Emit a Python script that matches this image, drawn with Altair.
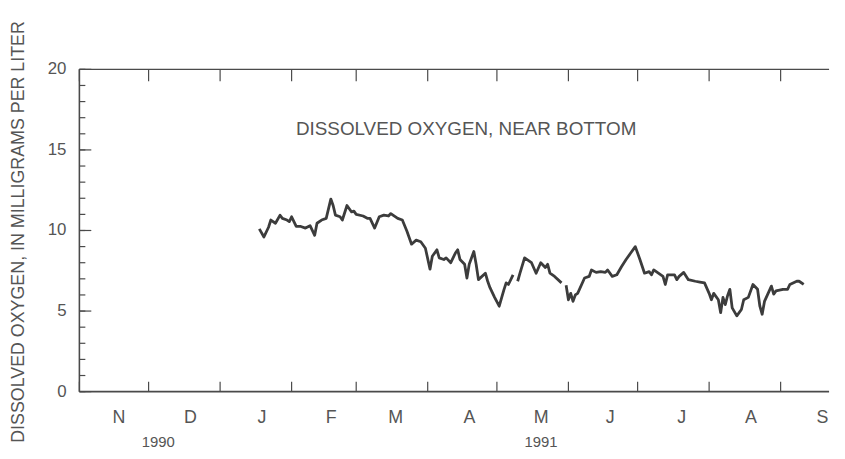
import altair as alt
import pandas as pd

# ---------------- data ----------------
dates = [
    "1991-01-18", "1991-01-20", "1991-01-22", "1991-01-23", "1991-01-25", "1991-01-27",
    "1991-01-28", "1991-01-30", "1991-01-31", "1991-02-01", "1991-02-03", "1991-02-05",
    "1991-02-07", "1991-02-09", "1991-02-11", "1991-02-12", "1991-02-14", "1991-02-16",
    "1991-02-18", "1991-02-19", "1991-02-20", "1991-02-22", "1991-02-23", "1991-02-25",
    "1991-02-27", "1991-02-28", "1991-03-01", "1991-03-04", "1991-03-06", "1991-03-07",
    "1991-03-09", "1991-03-11", "1991-03-13", "1991-03-15", "1991-03-16", "1991-03-19",
    "1991-03-21", "1991-03-23", "1991-03-25", "1991-03-27", "1991-03-29", "1991-03-31",
    "1991-04-02", "1991-04-03", "1991-04-05", "1991-04-06", "1991-04-08", "1991-04-09",
    "1991-04-11", "1991-04-13", "1991-04-14", "1991-04-15", "1991-04-17", "1991-04-18",
    "1991-04-19", "1991-04-21", "1991-04-22", "1991-04-23", "1991-04-26", "1991-04-27",
    "1991-04-28", "1991-04-30", "1991-05-02", "1991-05-04", "1991-05-05", "1991-05-06",
    "1991-05-08", "1991-05-09", "1991-05-10", "1991-05-11", "1991-05-13", "1991-05-16",
    "1991-05-18", "1991-05-20", "1991-05-22", "1991-05-23", "1991-05-24", "1991-05-26",
    "1991-05-29", "1991-05-30", "1991-05-31", "1991-06-01", "1991-06-02", "1991-06-03",
    "1991-06-04", "1991-06-05", "1991-06-08", "1991-06-10", "1991-06-11", "1991-06-13",
    "1991-06-15", "1991-06-17", "1991-06-18", "1991-06-20", "1991-06-22", "1991-06-24",
    "1991-06-26", "1991-06-28", "1991-06-30", "1991-07-02", "1991-07-04", "1991-07-06",
    "1991-07-07", "1991-07-08", "1991-07-10", "1991-07-12", "1991-07-13", "1991-07-14",
    "1991-07-17", "1991-07-18", "1991-07-19", "1991-07-21", "1991-07-23", "1991-07-26",
    "1991-07-28", "1991-07-30", "1991-08-01", "1991-08-02", "1991-08-03", "1991-08-05",
    "1991-08-06", "1991-08-07", "1991-08-08", "1991-08-09", "1991-08-10", "1991-08-11",
    "1991-08-13", "1991-08-15", "1991-08-16", "1991-08-18", "1991-08-20", "1991-08-22",
    "1991-08-23", "1991-08-24", "1991-08-25", "1991-08-28", "1991-08-29", "1991-08-30",
    "1991-09-02", "1991-09-04", "1991-09-05", "1991-09-08", "1991-09-09", "1991-09-11",
]
oxygen = [
    10.1, 9.6, 10.2, 10.65, 10.45, 10.95,
    10.75, 10.65, 10.55, 10.85, 10.25, 10.25,
    10.15, 10.3, 9.7, 10.45, 10.65, 10.75,
    11.95, 11.55, 10.95, 10.85, 10.65, 11.55,
    11.15, 11.2, 11.0, 10.9, 10.75, 10.75,
    10.15, 10.85, 10.95, 10.9, 11.05, 10.75,
    10.65, 9.95, 9.15, 9.4, 9.3, 8.9,
    7.6, 8.4, 8.8, 8.3, 8.2, 8.3,
    8.0, 8.6, 8.8, 8.2, 7.9, 7.05,
    7.9, 8.7, 7.9, 6.95, 7.35, 6.85,
    6.45, 5.85, 5.3, 6.3, 6.75, 6.65,
    7.25, None, 6.85, 7.35, 8.3, 8.0,
    7.35, 8.0, 7.7, 7.9, 7.35, 7.15,
    6.75, None, 6.6, 5.7, 6.1, 5.6,
    6.0, 6.1, 7.05, 7.15, 7.55, 7.4,
    7.45, 7.4, 7.55, 7.15, 7.25, 7.75,
    8.2, 8.6, 9.0, 8.2, 7.35, 7.45,
    7.25, 7.55, 7.35, 7.15, 6.65, 7.25,
    7.25, 6.95, 7.15, 7.4, 6.95, 6.85,
    6.8, 6.75, 6.1, 5.7, 6.1, 5.7,
    4.9, 5.85, 5.4, 5.95, 6.35, 5.2,
    4.7, 5.1, 5.7, 5.85, 6.65, 6.35,
    5.3, 4.8, 5.6, 6.55, 6.05, 6.25,
    6.35, 6.35, 6.65, 6.85, 6.85, 6.65,
]

month_starts = ["1990-11-01", "1990-12-01", "1991-01-01", "1991-02-01", "1991-03-01",
                "1991-04-01", "1991-05-01", "1991-06-01", "1991-07-01", "1991-08-01",
                "1991-09-01"]
month_labels = ["N", "D", "J", "F", "M", "A", "M", "J", "J", "A", "S"]
month_label_dates = ["1990-11-16", "1990-12-17", "1991-01-17", "1991-02-16", "1991-03-16",
                     "1991-04-17", "1991-05-18", "1991-06-17", "1991-07-18", "1991-08-17",
                     "1991-09-17"]
year_labels = ["1990", "1991"]
year_label_dates = ["1990-12-03", "1991-05-18"]
y_major = [0, 5, 10, 15, 20]
y_minor = list(range(0, 21))

# ---------------- layout ----------------
W, H = 756, 325
FONT = "Liberation Sans"
INK = "#4a4a4a"
TXT = "#555555"

xs = alt.Scale(type="utc",
               domain=[alt.DateTime(year=1990, month=11, date=1, utc=True),
                       alt.DateTime(year=1991, month=9, date=22, utc=True)])
ys = alt.Scale(domain=[0, 20], nice=False, zero=False)

# series with segment ids (breaks at missing days)
seg, rows = 0, []
for d, v in zip(dates, oxygen):
    if v is None:
        seg += 1
        continue
    rows.append({"date": d, "value": v, "seg": seg})
df = pd.DataFrame(rows)

line = alt.Chart(df).mark_line(color="#3c3c3c", strokeWidth=2.8, strokeJoin="round").encode(
    x=alt.X("date:T", scale=xs, axis=None),
    y=alt.Y("value:Q", scale=ys, axis=None),
    detail="seg:N",
)

one = pd.DataFrame({"a": [0]})
frame_left = alt.Chart(one).mark_rule(color=INK, strokeWidth=1.6).encode(
    x=alt.value(0), y=alt.value(0), y2=alt.value(H))
frame_bottom = alt.Chart(one).mark_rule(color=INK, strokeWidth=1.6).encode(
    x=alt.value(0), x2=alt.value(W), y=alt.value(H))
frame_top = alt.Chart(one).mark_rule(color=INK, strokeWidth=1.4).encode(
    x=alt.value(0), x2=alt.value(W), y=alt.value(0))

ymaj = pd.DataFrame({"v": y_major})
ymin = pd.DataFrame({"v": y_minor})
ytick_minor = alt.Chart(ymin).mark_rule(color=INK, strokeWidth=1.2).encode(
    y=alt.Y("v:Q", scale=ys, axis=None), x=alt.value(0), x2=alt.value(6))
ytick_major = alt.Chart(ymaj).mark_rule(color=INK, strokeWidth=1.2).encode(
    y=alt.Y("v:Q", scale=ys, axis=None), x=alt.value(0), x2=alt.value(12))
ylab = alt.Chart(ymaj).mark_text(align="right", baseline="middle", font=FONT,
                                 fontSize=17, color=TXT).encode(
    y=alt.Y("v:Q", scale=ys, axis=None), x=alt.value(-13), text="v:Q")

ms = pd.DataFrame({"d": month_starts})
xtick_bottom = alt.Chart(ms).mark_rule(color=INK, strokeWidth=1.2).encode(
    x=alt.X("d:T", scale=xs, axis=None), y=alt.value(H - 10), y2=alt.value(H))
xtick_top = alt.Chart(ms).mark_rule(color=INK, strokeWidth=1.2).encode(
    x=alt.X("d:T", scale=xs, axis=None), y=alt.value(0), y2=alt.value(12))

ml = pd.DataFrame({"d": month_label_dates, "t": month_labels})
mlab = alt.Chart(ml).mark_text(align="center", baseline="middle", font=FONT,
                               fontSize=18, color=TXT, dx=5).encode(
    x=alt.X("d:T", scale=xs, axis=None), y=alt.value(H + 27), text="t:N")

yl = pd.DataFrame({"d": year_label_dates, "t": year_labels})
ylabs = alt.Chart(yl).mark_text(align="center", baseline="middle", font=FONT,
                                fontSize=15, color=TXT, dx=5).encode(
    x=alt.X("d:T", scale=xs, axis=None), y=alt.value(H + 51), text="t:N")

note = alt.Chart(one).mark_text(align="center", baseline="middle", font=FONT,
                                fontSize=19, color=TXT).encode(
    x=alt.value(390), y=alt.value(60), text=alt.value("DISSOLVED OXYGEN, NEAR BOTTOM"))

ytitle = alt.Chart(one).mark_text(align="center", baseline="middle", angle=270, font=FONT,
                                  fontSize=18, color=TXT).encode(
    x=alt.value(-61), y=alt.value(164),
    text=alt.value("DISSOLVED OXYGEN, IN MILLIGRAMS PER LITER"))

chart = alt.layer(
    line, frame_left, frame_bottom, frame_top, ytick_minor, ytick_major, ylab,
    xtick_bottom, xtick_top, mlab, ylabs, note, ytitle,
).properties(
    width=W, height=H,
    padding={"left": 72, "top": 60, "right": 8, "bottom": 58},
    autosize=alt.AutoSizeParams(type="none"),
    background="white",
).configure_view(stroke=None)

chart.save("out.html", embed_options={"renderer": "svg", "actions": False})
